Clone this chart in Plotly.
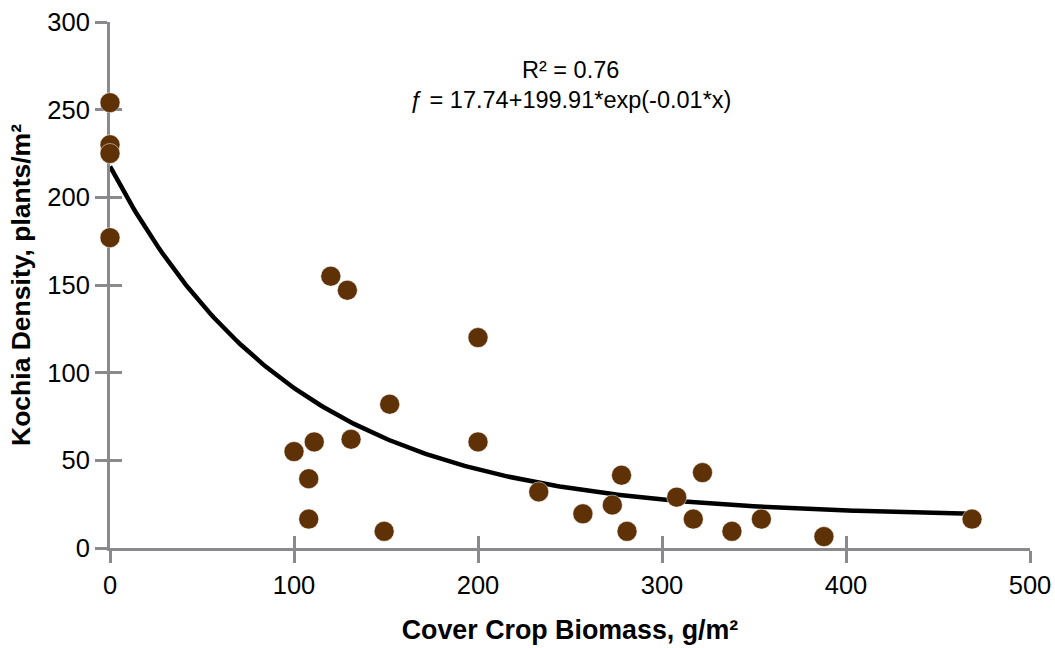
import numpy as np
import plotly.graph_objects as go

biomass = [0, 0, 0, 0, 120, 129, 200, 152, 131, 111, 100, 108, 108, 149, 200,
           233, 257, 273, 278, 281, 308, 317, 322, 338, 354, 388, 468.5]
density = [254, 230, 225, 177, 155, 147, 120, 82, 62, 60.5, 55, 39.5, 16.5, 9.5, 60.5,
           32, 19.5, 24.5, 41.5, 9.5, 29, 16.5, 43, 9.5, 16.5, 6.5, 16.5]

fit_a, fit_b, fit_k = 17.74, 199.91, -0.01
r2 = 0.76
x_ticks = [0, 100, 200, 300, 400, 500]
y_ticks = [0, 50, 100, 150, 200, 250, 300]

xf = np.linspace(0, max(biomass), 300)
yf = fit_a + fit_b * np.exp(fit_k * xf)

FONT = "Liberation Sans, Arial, Helvetica, sans-serif"
AX = "#8a8a8e"
BROWN = "#5e3106"

fig = go.Figure()
fig.add_trace(go.Scatter(x=[None], y=[None], xaxis="x2", yaxis="y2", showlegend=False))
fig.add_trace(go.Scatter(x=xf, y=yf, mode="lines",
                         line=dict(color="black", width=4.5), cliponaxis=False,
                         hoverinfo="skip", showlegend=False))
fig.add_trace(go.Scatter(x=biomass, y=density, mode="markers",
                         marker=dict(color=BROWN, size=20, line=dict(color="white", width=0.5)),
                         cliponaxis=False, showlegend=False))

common = dict(showgrid=False, zeroline=False, showline=True, linecolor=AX, linewidth=3,
              tickcolor=AX, tickwidth=3, ticklen=12, automargin=False, layer="below traces")
fig.update_layout(
    width=1055, height=648,
    margin=dict(l=110, r=25, t=22, b=100),
    paper_bgcolor="white", plot_bgcolor="white",
    font=dict(family=FONT, color="black"),
    xaxis=dict(range=[0, 500], tickvals=x_ticks, ticks="outside",
               tickfont=dict(size=25.5), **common,
               title=dict(text="<b>Cover Crop Biomass, g/m²</b>", font=dict(size=26.8), standoff=23)),
    yaxis=dict(range=[0, 300], tickvals=y_ticks, ticks="outside",
               tickfont=dict(size=25.5), **common,
               title=dict(text="<b>Kochia Density, plants/m²</b>", font=dict(size=26.5), standoff=10)),
    xaxis2=dict(range=[0, 500], tickvals=x_ticks, ticks="inside", overlaying="x",
                showticklabels=False, **common),
    yaxis2=dict(range=[0, 300], tickvals=y_ticks, ticks="inside", overlaying="y",
                showticklabels=False, **common),
    annotations=[
        dict(x=250, y=272.5, xref="x", yref="y", text=f"R² = {r2:.2f}", showarrow=False,
             font=dict(size=23.5), xanchor="center", yanchor="middle"),
        dict(x=250, y=255.5, xref="x", yref="y",
             text=f"ƒ = {fit_a}+{fit_b}*exp({fit_k}*x)", showarrow=False,
             font=dict(size=23.5), xanchor="center", yanchor="middle"),
    ],
)

fig.write_html("out.html", config={"displayModeBar": False},
               post_script="document.body.style.margin='0';document.body.style.overflow='hidden';")
